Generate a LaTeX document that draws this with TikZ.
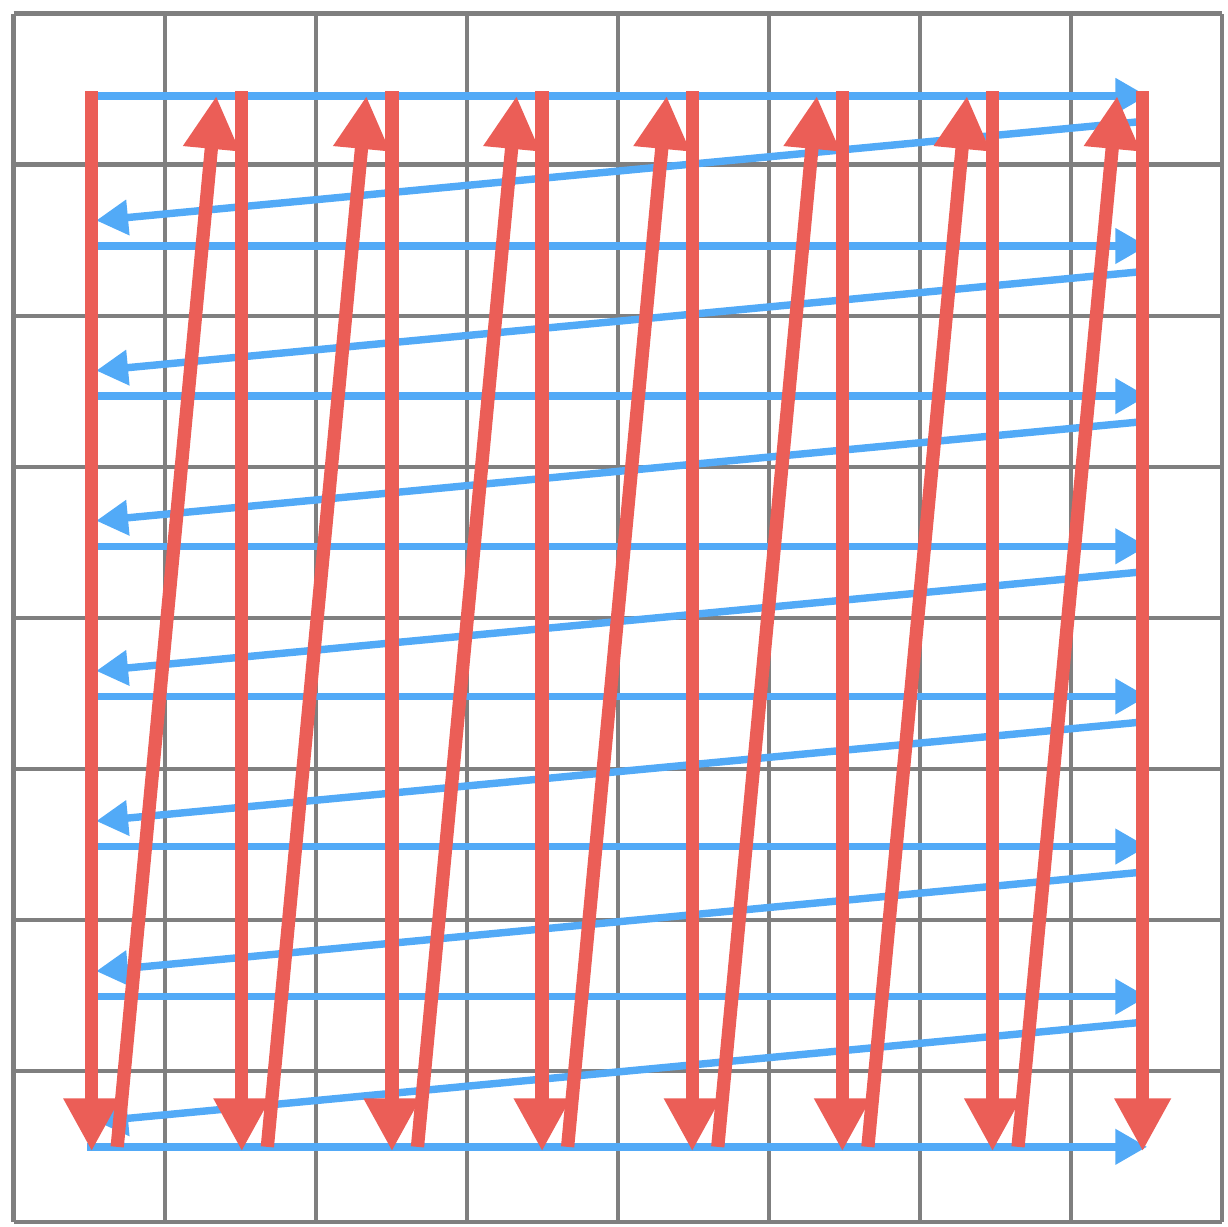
\documentclass[tikz,border=0pt]{standalone}
\usepackage{tikz}
\usepackage{xcolor}
\usetikzlibrary{arrows.meta}

\definecolor{colorGrid}{HTML}{7F7F7F}
\definecolor{colorRed}{HTML}{EB5E57}
\definecolor{colorBlue}{HTML}{52AAF7}
\def\colorGrid{colorGrid}
\def\colorRed{colorRed}
\def\colorBlue{colorBlue}

\begin{document}
\begin{tikzpicture}[
    redarrow/.style = {line width=2.5pt , color=\colorRed , -{Triangle[length=10pt , width=10pt]}},
    bluearrow/.style = {line width=1.4pt , color=\colorBlue , -{Triangle[length=6pt , width=6.4pt]}}
    ]

    \useasboundingbox (-0.09,-0.03) rectangle (8.04,8.09);

    % Grille 8 x 8
    \draw[line width=0.8pt , color=\colorGrid] (0,0) grid (8,8);

	\begin{scope}[shift={(0.517,0.497)} , scale = 0.994]

    % Parcours par lignes (bleu)
    \foreach \j in {0,...,7} {
        \draw[bluearrow] (-0.03,\j) -- (7.03,\j);
    }
    \foreach \j in {1,...,7} {
        \draw[bluearrow] (7,\j-0.17) -- (0.03,\j-0.83);
    }

    % Parcours par colonnes (rouge)
    \foreach \i in {0,...,7} {
        \draw[redarrow] (\i,7.03) -- (\i,-0.03);
    }
    \foreach \i in {0,...,6} {
        \draw[redarrow] (\i+0.17,0) -- (\i+0.83,7);
    }

    \end{scope}

\end{tikzpicture}
\end{document}
